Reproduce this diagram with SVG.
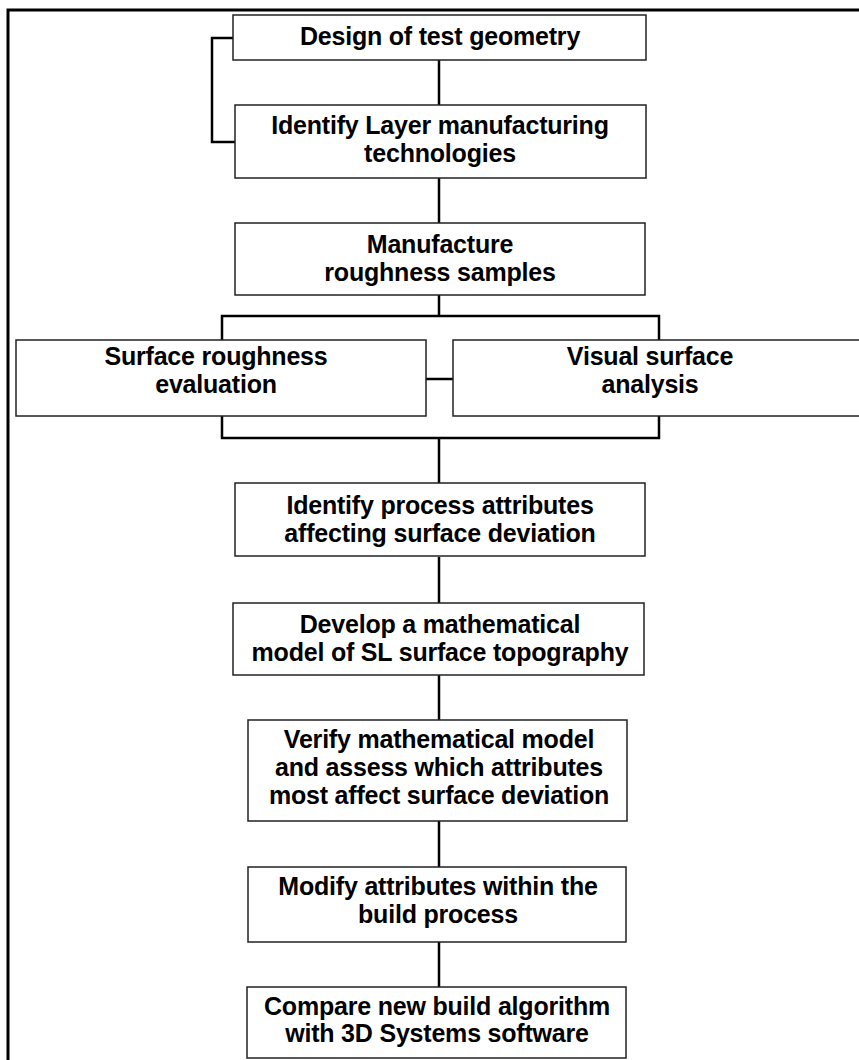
<svg xmlns="http://www.w3.org/2000/svg" width="859" height="1060" viewBox="0 0 859 1060">
<style>
.box{fill:#fff;stroke:#222;stroke-width:1.5}
.ln{fill:none;stroke:#000;stroke-width:2.5}
.fr{fill:none;stroke:#000;stroke-width:3}
text{font-family:"Liberation Sans",Arial,sans-serif;font-weight:bold;font-size:25px;text-anchor:middle;fill:#000;letter-spacing:-0.2px}
</style>
<rect width="859" height="1060" fill="#fff"/>
<g id="frame"><path class="fr" d="M8 1060 V10 H859"/></g>
<g id="connectors">
<path class="ln" d="M233 38 H212 V142 H235"/>
<path class="ln" d="M439 60 V105"/>
<path class="ln" d="M439 178 V223"/>
<path class="ln" d="M439 295 V316 M222 340 V316 H659 V340"/>
<path class="ln" d="M426 379 H453"/>
<path class="ln" d="M222 416 V438 H659 V416 M439 438 V483"/>
<path class="ln" d="M439 557 V603"/>
<path class="ln" d="M439 675 V720"/>
<path class="ln" d="M439 821 V867"/>
<path class="ln" d="M439 942 V987"/>
</g>
<g id="n1"><rect class="box" x="233" y="15" width="413" height="45"/><text x="440" y="45">Design of test geometry</text></g>
<g id="n2"><rect class="box" x="235" y="105" width="411" height="73"/><text x="440" y="134">Identify Layer manufacturing</text><text x="440" y="162">technologies</text></g>
<g id="n3"><rect class="box" x="235" y="223" width="410" height="72"/><text x="440" y="253">Manufacture</text><text x="440" y="281">roughness samples</text></g>
<g id="n4"><rect class="box" x="16" y="340" width="410" height="76"/><text x="216" y="365">Surface roughness</text><text x="216" y="393">evaluation</text></g>
<g id="n5"><rect class="box" x="453" y="340" width="420" height="76"/><text x="650" y="365">Visual surface</text><text x="650" y="393">analysis</text></g>
<g id="n6"><rect class="box" x="235" y="483" width="410" height="73"/><text x="440" y="514">Identify process attributes</text><text x="440" y="542">affecting surface deviation</text></g>
<g id="n7"><rect class="box" x="233" y="603" width="411" height="72"/><text x="440" y="633">Develop a mathematical</text><text x="440" y="661">model of SL surface topography</text></g>
<g id="n8"><rect class="box" x="248" y="720" width="379" height="101"/><text x="439" y="748">Verify mathematical model</text><text x="439" y="776">and assess which attributes</text><text x="439" y="804">most affect surface deviation</text></g>
<g id="n9"><rect class="box" x="248" y="867" width="378" height="75"/><text x="438" y="895">Modify attributes within the</text><text x="438" y="923">build process</text></g>
<g id="n10"><rect class="box" x="247" y="987" width="379" height="71"/><text x="437" y="1015">Compare new build algorithm</text><text x="437" y="1042">with 3D Systems software</text></g>
</svg>
